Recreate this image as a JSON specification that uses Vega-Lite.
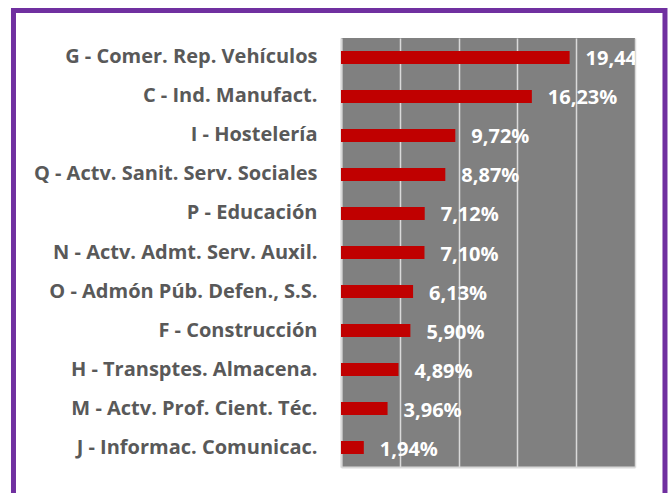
{
  "$schema": "https://vega.github.io/schema/vega-lite/v6.json",
  "width": 294,
  "height": 429,
  "autosize": {"type": "none"},
  "padding": {"left": 341, "top": 38, "right": 35, "bottom": 26},
  "background": "white",
  "config": {
    "locale": {"number": {"decimal": ",", "thousands": ".", "grouping": [3], "currency": ["", " €"]}},
    "view": {"stroke": null, "fill": "#808080"},
    "font": "Open Sans"
  },
  "datasets": {
    "sectores": [
      {"sector": "G - Comer. Rep. Vehículos", "pct": 0.1944},
      {"sector": "C - Ind. Manufact.", "pct": 0.1623},
      {"sector": "I - Hostelería", "pct": 0.0972},
      {"sector": "Q - Actv. Sanit. Serv. Sociales", "pct": 0.0887},
      {"sector": "P - Educación", "pct": 0.0712},
      {"sector": "N - Actv. Admt. Serv. Auxil.", "pct": 0.0710},
      {"sector": "O - Admón Púb. Defen., S.S.", "pct": 0.0613},
      {"sector": "F - Construcción", "pct": 0.0590},
      {"sector": "H - Transptes. Almacena.", "pct": 0.0489},
      {"sector": "M - Actv. Prof. Cient. Téc.", "pct": 0.0396},
      {"sector": "J - Informac. Comunicac.", "pct": 0.0194}
    ],
    "marco": [{"x1": -0.2785, "x2": 0.2755, "y1": 1.0641, "y2": -0.1}]
  },
  "layer": [
    {
      "data": {"name": "marco"},
      "mark": {"type": "rect", "filled": false, "stroke": "#7030a0", "strokeWidth": 5, "strokeOpacity": 1},
      "encoding": {
        "x": {"field": "x1", "type": "quantitative", "scale": {"domain": [0, 0.25], "nice": false, "zero": false}},
        "x2": {"field": "x2"},
        "y": {"field": "y1", "type": "quantitative", "scale": {"domain": [0, 1], "nice": false, "zero": false}, "axis": null},
        "y2": {"field": "y2"}
      }
    },
    {
      "data": {"name": "sectores"},
      "encoding": {
        "y": {
          "field": "sector", "type": "nominal", "sort": null,
          "scale": {"paddingInner": 0.667, "paddingOuter": 0.333},
          "axis": {
            "title": null, "ticks": false, "tickSize": 0, "labelPadding": 24,
            "labelFont": "Open Sans", "labelFontWeight": "bold", "labelFontSize": 20,
            "labelColor": "#595959", "labelLimit": 400,
            "domainColor": "#d9d9d9", "domainWidth": 2
          }
        },
        "x": {
          "field": "pct", "type": "quantitative",
          "scale": {"domain": [0, 0.25], "nice": false, "zero": true},
          "axis": {
            "title": null, "labels": false, "ticks": false,
            "values": [0, 0.05, 0.1, 0.15, 0.2, 0.25],
            "grid": true, "gridColor": "#d9d9d9", "gridWidth": 1.5, "gridOpacity": 1,
            "domainColor": "#d9d9d9", "domainWidth": 2
          }
        }
      },
      "layer": [
        {"mark": {"type": "bar", "color": "#c00000"}},
        {
          "mark": {"type": "text", "align": "left", "baseline": "middle", "dx": 16, "dy": 2, "font": "Open Sans", "fontWeight": "bold", "fontSize": 20, "color": "white", "clip": true},
          "encoding": {
            "text": {"field": "pct", "type": "quantitative", "format": ".2%"}
          }
        }
      ]
    }
  ],
  "resolve": {"scale": {"y": "independent"}}
}
